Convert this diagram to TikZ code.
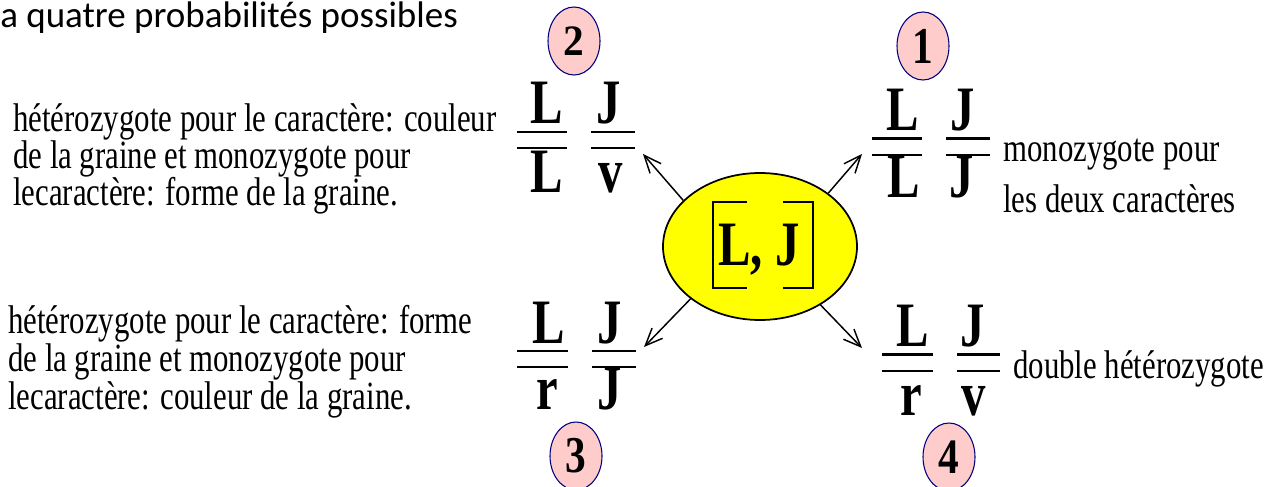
\documentclass[tikz,border=0pt]{standalone}
\usepackage{fontspec}
\setmainfont{Liberation Serif}
\newfontfamily\calibrifont{Carlito}
\usepackage{graphicx}
\usetikzlibrary{arrows.meta,shapes.geometric}
\definecolor{navyc}{HTML}{000080}
\definecolor{pinkc}{HTML}{FFCCCC}
\definecolor{yellowc}{HTML}{FFFF00}
\newcommand{\vst}[1]{\scalebox{1}[1.3]{#1}}
\newcommand{\vsd}[2]{\scalebox{1}[#1]{#2}}
\begin{document}
\begin{tikzpicture}[x=0.75pt,y=-0.75pt,
  lbl/.style={inner sep=0pt, anchor=base, font=\fontsize{36.5}{36.5}\selectfont\bfseries},
  txt/.style={inner sep=0pt, anchor=base west, font=\fontsize{23.1}{24}\selectfont},
  bar/.style={line width=2.1pt},
  numc/.style={ellipse, draw=navyc, fill=pinkc, line width=0.8pt, minimum width=39pt, minimum height=51pt, inner sep=0pt, font=\fontsize{31}{31}\selectfont\bfseries},
  arr/.style={line width=1.1pt, -{Straight Barb[length=13pt,width=11pt,line width=1.1pt]}},
  brk/.style={line width=1.5pt}
  ]
\useasboundingbox (0,0) rectangle (1279,486);

% title
\node[inner sep=0pt, anchor=base west, font=\calibrifont\fontsize{27.75}{30}\selectfont] (title) at (0,27) {a quatre probabilités possibles};

% central ellipse
\node[ellipse, draw=black, fill=yellowc, line width=1.3pt, minimum width=145.5pt, minimum height=110.25pt, inner sep=0pt] (c) at (760,246.5) {};
\node[lbl] (lj) at (759,265) {\vst{L, J}};
\draw[brk] (747,202) -- (713,202) -- (713,288) -- (747,288);
\draw[brk] (783,202) -- (813,202) -- (813,288) -- (783,288);

% number circles
\node[numc] (n1) at (923,46) {\vsd{1.25}{1}};
\node[numc] (n2) at (574,41) {\vsd{1.05}{2}};
\node[numc] (n3) at (576,456) {\vsd{1.25}{3}};
\node[numc] (n4) at (949,457) {\vsd{1.2}{4}};

% genotype 2 (top left)
\draw[bar] (517,132) -- (567,132);
\draw[bar] (517,148) -- (567,148);
\draw[bar] (591,132) -- (635,132);
\draw[bar] (591,148) -- (635,148);
\node[lbl] (g2a) at (547,123) {\vst{L}};
\node[lbl] (g2b) at (547,192) {\vst{L}};
\node[lbl] (g2c) at (609,123) {\vst{J}};
\node[lbl] (g2d) at (611,192) {\vst{v}};

% genotype 1 (top right)
\draw[bar] (872,138.3) -- (922,138.3);
\draw[bar] (872,155) -- (922,155);
\draw[bar] (946,138.3) -- (990,138.3);
\draw[bar] (946,155) -- (990,155);
\node[lbl] (g1a) at (903,130) {\vst{L}};
\node[lbl] (g1b) at (904,197) {\vst{L}};
\node[lbl] (g1c) at (963,130) {\vst{J}};
\node[lbl] (g1d) at (962,197) {\vst{J}};

% genotype 3 (bottom left)
\draw[bar] (517,351) -- (568,351);
\draw[bar] (517,367) -- (568,367);
\draw[bar] (592,351) -- (636,351);
\draw[bar] (592,367) -- (636,367);
\node[lbl] (g3a) at (549,343) {\vst{L}};
\node[lbl] (g3b) at (547,409) {\vst{r}};
\node[lbl] (g3c) at (610,343) {\vst{J}};
\node[lbl] (g3d) at (610,409) {\vst{J}};

% genotype 4 (bottom right)
\draw[bar] (882,354.3) -- (933,354.3);
\draw[bar] (882,371) -- (933,371);
\draw[bar] (957,354.3) -- (1000,354.3);
\draw[bar] (957,371) -- (1000,371);
\node[lbl] (g4a) at (913,346) {\vst{L}};
\node[lbl] (g4b) at (911,415) {\vst{r}};
\node[lbl] (g4c) at (973,346) {\vst{J}};
\node[lbl] (g4d) at (974,415) {\vst{v}};

% arrows
\coordinate (tip1) at (862,154);
\coordinate (tip2) at (643,154);
\coordinate (tip3) at (644,347);
\coordinate (tip4) at (862,348);
\draw[arr] (c.38) -- (tip1);
\draw[arr] (c.149) -- (tip2);
\draw[arr] (c.217) -- (tip3);
\draw[arr] (c.316.7) -- (tip4);

% left texts
\node[txt] (a1) at (13,131.5) {\vst{hétérozygote pour le caractère: couleur}};
\node[txt] (a2) at (13,168.5) {\vst{de la graine et monozygote pour}};
\node[txt] (a3) at (13,205.5) {\vst{lecaractère: forme de la graine.}};
\node[txt] (b1) at (8,333.5) {\vst{hétérozygote pour le caractère: forme}};
\node[txt] (b2) at (8,371.5) {\vst{de la graine et monozygote pour}};
\node[txt] (b3) at (8,409.5) {\vst{lecaractère: couleur de la graine.}};

% right texts
\node[txt] (r1) at (1003,161.5) {\vst{monozygote pour}};
\node[txt] (r2) at (1003,212.5) {\vst{les deux caractères}};
\node[txt] (r3) at (1013,378) {\vst{double hétérozygote}};
\end{tikzpicture}
\end{document}
